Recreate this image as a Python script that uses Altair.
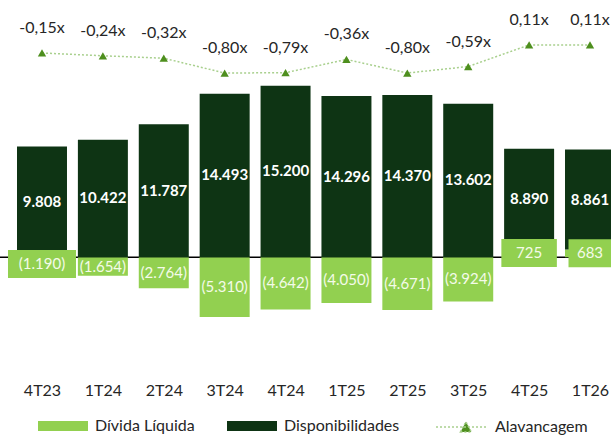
import altair as alt
import pandas as pd

# ---- data ----
quarters = ["4T23", "1T24", "2T24", "3T24", "4T24", "1T25", "2T25", "3T25", "4T25", "1T26"]
divida_liquida = [-1190, -1654, -2764, -5310, -4642, -4050, -4671, -3924, 725, 683]
disponibilidades = [9808, 10422, 11787, 14493, 15200, 14296, 14370, 13602, 8890, 8861]
alavancagem = [-0.15, -0.24, -0.32, -0.80, -0.79, -0.36, -0.80, -0.59, 0.11, 0.11]

# ---- styles ----
LIGHT = "#92d050"
DARK = "#0e3414"
TRI = "#4e8f1e"
DOT = "#a9d08e"
TXT = "#262626"
FONT = "Lato"
label_box_width = {"4T23": 68, "4T25": 43, "1T26": 43}


def fmt_num(v):
    s = f"{abs(v):,}".replace(",", ".")
    return f"({s})" if v < 0 else s


rows = []
for i, q in enumerate(quarters):
    rows.append(dict(quarter=q, series="Dívida Líquida", value=divida_liquida[i], order=0,
                     label=fmt_num(divida_liquida[i])))
    rows.append(dict(quarter=q, series="Disponibilidades", value=disponibilidades[i], order=1,
                     label=fmt_num(disponibilidades[i])))
bars_df = pd.DataFrame(rows)

line_df = pd.DataFrame({
    "quarter": quarters,
    "lev": alavancagem,
    "label": [f"{v:.2f}".replace(".", ",") + "x" for v in alavancagem],
    "series": ["Alavancagem"] * len(quarters),
})

# ---- scales ----
xb = alt.X("quarter:N", sort=quarters, axis=None,
           scale=alt.Scale(range=[17, 615], paddingInner=0.179, paddingOuter=0))
ybscale = alt.Scale(domain=[-10000, 22800], nice=False, zero=False)

base = (alt.Chart(bars_df)
        .transform_stack(stack="value", groupby=["quarter"], as_=["y0", "y1"],
                         sort=[alt.SortField("order", order="ascending")])
        .transform_calculate(mid="(datum.y0 + datum.y1) / 2"))

zero_rule = alt.Chart(pd.DataFrame({"z": [0]})).mark_rule(color="black", strokeWidth=1.5).encode(
    y=alt.Y("z:Q", scale=ybscale, axis=None))

bars = base.mark_bar(clip=True).encode(
    x=xb,
    y=alt.Y("y0:Q", scale=ybscale, axis=None),
    y2="y1:Q",
    color=alt.Color("series:N",
                    scale=alt.Scale(domain=["Dívida Líquida", "Disponibilidades"], range=[LIGHT, DARK]),
                    legend=alt.Legend(orient="none", legendX=38, legendY=401, direction="horizontal",
                                      title=None, symbolType="M-1,-0.2H1V0.2H-1Z", symbolSize=2500,
                                      symbolStrokeWidth=0, symbolOpacity=1,
                                      labelFont=FONT, labelFontSize=16, labelColor=TXT,
                                      labelOffset=7, columnPadding=32)),
)

boxes = (base.transform_filter("datum.order == 0")
         .transform_filter(alt.FieldOneOfPredicate(field="quarter", oneOf=list(label_box_width)))
         .mark_tick(thickness=28, color=LIGHT, opacity=1, clip=True)
         .encode(x=xb, y=alt.Y("mid:Q", scale=ybscale, axis=None),
                 size=alt.Size("quarter:O",
                               scale=alt.Scale(domain=list(label_box_width),
                                               range=list(label_box_width.values())),
                               legend=None)))

dark_labels = base.transform_filter("datum.order == 1").mark_text(
    font=FONT, fontSize=15, fontWeight="bold", color="white").encode(
    x=xb, y=alt.Y("mid:Q", scale=ybscale, axis=None), text="label:N")

light_labels = base.transform_filter("datum.order == 0").mark_text(
    font=FONT, fontSize=15, fontWeight="normal", color="#f4fbe9").encode(
    x=xb, y=alt.Y("mid:Q", scale=ybscale, axis=None), text="label:N")

bar_layer = alt.layer(zero_rule, bars, boxes, dark_labels, light_labels)

# ---- leverage line ----
xl = alt.X("quarter:N", sort=quarters,
           scale=alt.Scale(type="point", range=[42, 590], padding=0),
           axis=alt.Axis(title=None, domain=False, ticks=False, labelAngle=0, labelFont=FONT,
                         labelFontSize=16, labelColor=TXT, labelPadding=12, grid=False))
yl = alt.Y("lev:Q", scale=alt.Scale(domain=[-10.44, 1.57], nice=False, zero=False), axis=None)

lbase = alt.Chart(line_df)
line = lbase.mark_line(strokeDash=[2, 2], strokeWidth=1.5).encode(
    x=xl, y=yl,
    color=alt.Color("series:N", scale=alt.Scale(domain=["Alavancagem"], range=[DOT]),
                    legend=alt.Legend(orient="none", legendX=435, legendY=400, title=None,
                                      symbolType="M-1,0H1M-0.06,0.19L0.15,-0.2L0.36,0.19Z",
                                      symbolSize=2704, symbolFillColor=TRI, symbolStrokeColor=DOT,
                                      symbolStrokeWidth=1.5, symbolDash=[2, 2],
                                      labelFont=FONT, labelFontSize=16, labelColor=TXT,
                                      labelOffset=6)))
points = lbase.mark_point(shape="triangle-up", filled=True, size=70, color=TRI, opacity=1).encode(
    x=xl, y=yl)
ltext = lbase.mark_text(dy=-25, font=FONT, fontSize=16, color=TXT).encode(
    x=xl, y=yl, text="label:N")

line_layer = alt.layer(line, points, ltext)

chart = (alt.layer(bar_layer, line_layer)
         .resolve_scale(x="independent", y="independent", color="independent")
         .properties(width=611, height=370,
                     padding={"left": 0, "top": 0, "right": 0, "bottom": 66},
                     autosize=alt.AutoSizeParams(type="none"),
                     background="white")
         .configure_view(stroke=None))

chart.save("out.html", embed_options={"renderer": "svg", "actions": False})
